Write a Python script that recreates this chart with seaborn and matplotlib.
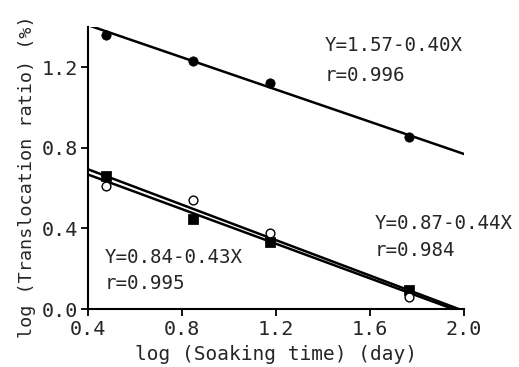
import matplotlib
matplotlib.use("Agg")
import matplotlib.pyplot as plt
import numpy as np
import pandas as pd
import seaborn as sns

# log soaking time (day)
log_time = [0.477, 0.846, 1.174, 1.767]

# log translocation ratio (%)
filled_circle = [1.362, 1.230, 1.124, 0.853]
filled_square = [0.660, 0.445, 0.334, 0.094]
open_circle = [0.611, 0.541, 0.379, 0.061]

# regression lines: (intercept, slope, x_end)
fit_top = (1.57, -0.40, 2.0)
fit_a = (0.84, -0.43, 0.84 / 0.43)
fit_b = (0.87, -0.44, 0.87 / 0.44)

labels = [
    (1.408, 1.31, "Y=1.57-0.40X"),
    (1.408, 1.16, "r=0.996"),
    (1.621, 0.427, "Y=0.87-0.44X"),
    (1.621, 0.293, "r=0.984"),
    (0.472, 0.258, "Y=0.84-0.43X"),
    (0.472, 0.129, "r=0.995"),
]

sns.set_style("ticks")
plt.rcParams["font.family"] = ["DejaVu Sans Mono"]

fig = plt.figure(figsize=(5.19, 3.67), dpi=100)
ax = fig.add_axes([0.1696, 0.158, 0.7245, 0.768])

# fitted lines
for a, b, xe in [fit_top, fit_a, fit_b]:
    xs = np.array([0.4, xe])
    sns.lineplot(x=xs, y=a + b * xs, ax=ax, color="black", lw=1.8)

df = pd.DataFrame({"x": log_time, "y": filled_circle})
sns.scatterplot(data=df, x="x", y="y", ax=ax, color="black", s=45, marker="o",
                edgecolor="black", zorder=3)
df = pd.DataFrame({"x": log_time, "y": filled_square})
sns.scatterplot(data=df, x="x", y="y", ax=ax, color="black", s=45, marker="s",
                edgecolor="black", zorder=3)
df = pd.DataFrame({"x": log_time, "y": open_circle})
sns.scatterplot(data=df, x="x", y="y", ax=ax, facecolor="white", s=40, marker="o",
                edgecolor="black", linewidth=1.0, zorder=3)

for x, y, t in labels:
    ax.text(x, y, t, fontsize=13.8, va="center", ha="left")

ax.set_xlim(0.4, 2.0)
ax.set_ylim(0.0, 1.40)
ax.set_xticks([0.4, 0.8, 1.2, 1.6, 2.0])
ax.set_yticks([0.0, 0.4, 0.8, 1.2])
ax.set_xticklabels(["0.4", "0.8", "1.2", "1.6", "2.0"])
ax.set_yticklabels(["0.0", "0.4", "0.8", "1.2"])
ax.tick_params(labelsize=14.5, length=5, width=1.3, color="black")
ax.tick_params(axis="x", pad=3)
ax.tick_params(axis="y", pad=2)
for s in ["left", "bottom"]:
    ax.spines[s].set_linewidth(1.5)
    ax.spines[s].set_color("black")
sns.despine(ax=ax)
ax.set_xlabel("log (Soaking time) (day)", fontsize=14, labelpad=4)
ax.set_ylabel("log (Translocation ratio) (%)", fontsize=13.3)
ax.yaxis.set_label_coords(-0.138, 0.47)

fig.savefig("out.png", dpi=100)
